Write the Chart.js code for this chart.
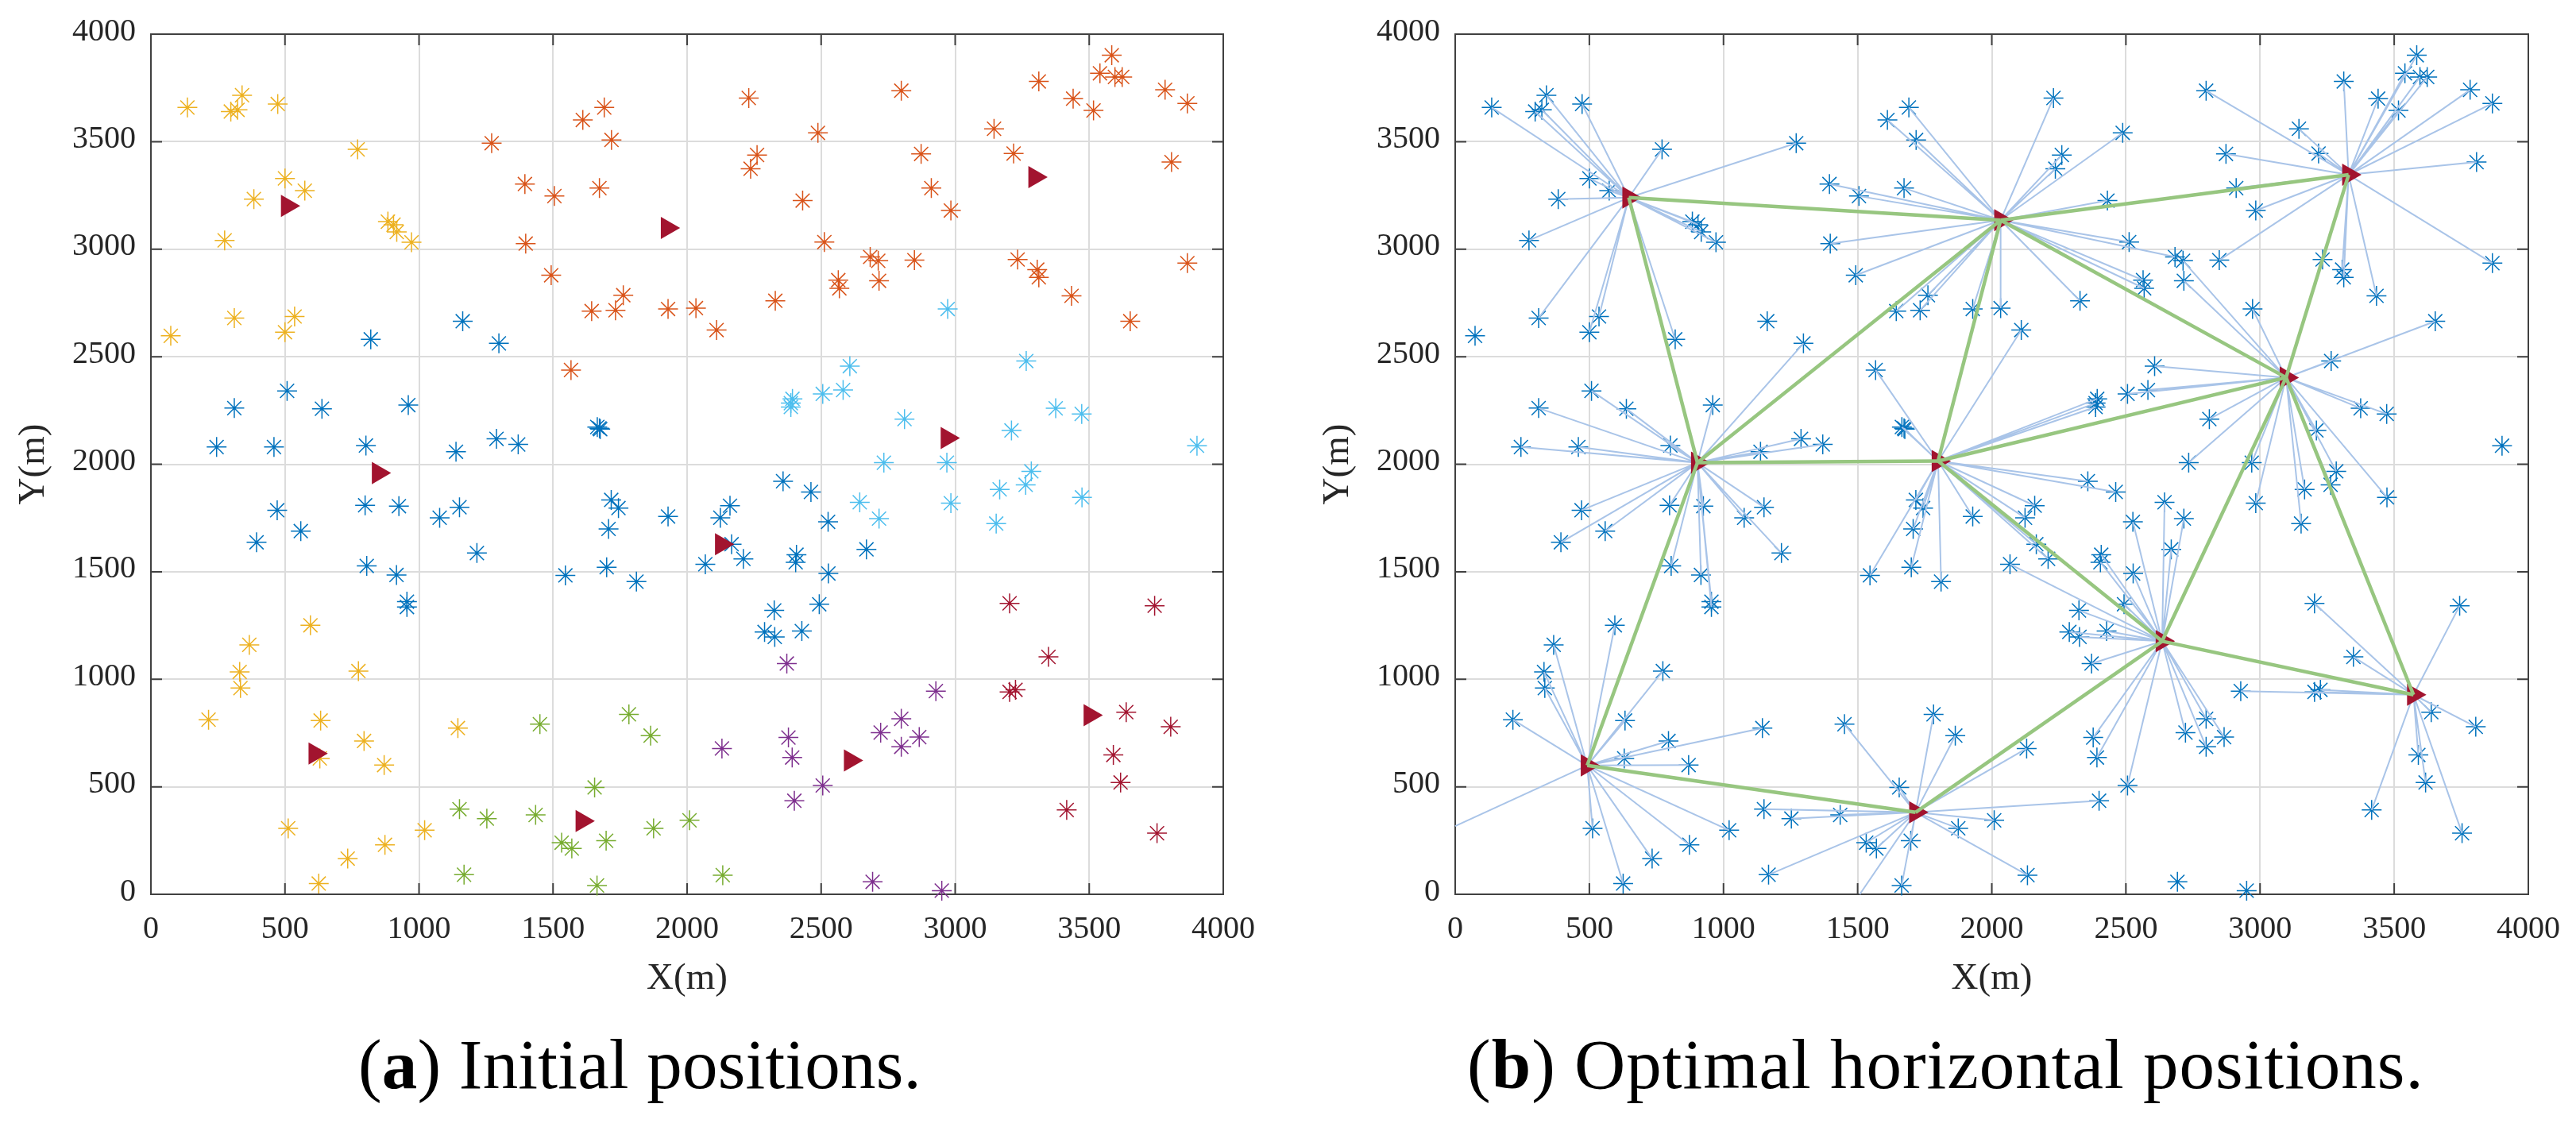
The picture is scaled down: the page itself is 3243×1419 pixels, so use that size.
<!DOCTYPE html>
<html>
<head>
<meta charset="utf-8">
<title>Initial and optimal positions</title>
<script src="https://cdn.jsdelivr.net/npm/chart.js@4"></script>
<style>
  body { margin: 0; background: #fff; }
  canvas { position: absolute; top: 0; }
  #chartA { left: 0; }
  #chartB { left: 1642px; }
  .caption {
    position: absolute; top: 1290px; white-space: nowrap; color: #000;
    font: 89px/100px "Liberation Serif", serif;
  }
  #capA { left: 451px; letter-spacing: 0.2px; }
  #capB { left: 1847px; letter-spacing: 1px; }
</style>
</head>
<body>
<canvas id="chartA" width="1620" height="1290"></canvas>
<canvas id="chartB" width="1601" height="1290"></canvas>
<div class="caption" id="capA">(<b>a</b>) Initial positions.</div>
<div class="caption" id="capB">(<b>b</b>) Optimal horizontal positions.</div>

<script>
const axisTicks = [0, 500, 1000, 1500, 2000, 2500, 3000, 3500, 4000];
const xTitle = "X(m)";
const yTitle = "Y(m)";

// users per cluster, as [x, y]
const yellowUsers = [[136,3659],[298,3640],[323,3648],[340,3716],[473,3675],[771,3464],[500,3329],[574,3272],[384,3233],[884,3128],[905,3114],[917,3080],[972,3032],[275,3041],[311,2680],[536,2687],[500,2614],[74,2597],[595,1251],[367,1160],[331,1034],[334,959],[215,812],[774,1038],[633,808],[795,713],[870,601],[630,632],[512,307],[734,166],[873,230],[1021,298],[1145,773],[626,50]];
const blueUsers = [[1163,2665],[1298,2562],[820,2581],[508,2341],[311,2261],[638,2258],[960,2275],[245,2080],[459,2080],[802,2087],[1138,2058],[1289,2118],[1370,2092],[1673,2167],[1676,2163],[1665,2173],[1717,1834],[1744,1796],[1707,1699],[1700,1521],[1546,1483],[1811,1454],[471,1786],[559,1689],[394,1637],[799,1809],[925,1805],[1077,1751],[1151,1800],[1216,1587],[805,1527],[916,1485],[955,1361],[955,1336],[2358,1921],[2462,1871],[1929,1757],[2160,1807],[2124,1751],[2526,1732],[2166,1628],[2210,1560],[2068,1535],[2408,1579],[2405,1544],[2527,1492],[2669,1604],[2325,1320],[2493,1349],[2289,1220],[2327,1197],[2428,1224]];
const orangeUsers = [[1691,3659],[1611,3601],[1718,3508],[1271,3493],[1395,3303],[1673,3284],[1505,3247],[1398,3026],[1493,2879],[1762,2786],[1644,2712],[1733,2716],[1567,2438],[2230,3703],[2488,3541],[2261,3438],[2237,3374],[2431,3226],[2512,3033],[2683,2964],[2713,2946],[2848,2949],[2564,2856],[2568,2818],[2716,2853],[2329,2760],[1929,2722],[2033,2726],[2110,2624],[2799,3737],[3145,3560],[3218,3445],[2873,3443],[2911,3284],[2984,3180],[3233,2952],[3306,2905],[3312,2869],[3434,2783],[3653,2665],[3866,2935],[3807,3405],[3866,3678],[3783,3741],[3584,3902],[3540,3818],[3596,3801],[3623,3801],[3440,3700],[3312,3780],[3516,3645]];
const skyUsers = [[2972,2722],[3265,2480],[2607,2456],[2506,2327],[2582,2345],[2393,2304],[2387,2284],[2387,2266],[2811,2210],[3375,2260],[3472,2234],[3210,2157],[3902,2086],[2734,2007],[2969,2007],[3284,1967],[3263,1904],[3166,1883],[3473,1846],[2644,1823],[2716,1747],[2984,1819],[3153,1724]];
const redUsers = [[3203,1353],[3744,1342],[3348,1104],[3203,941],[3225,951],[3638,847],[3804,779],[3590,648],[3617,520],[3416,392],[3753,284]];
const purpleUsers = [[2372,1073],[2928,945],[2799,816],[2722,752],[2866,731],[2799,686],[2378,729],[2392,636],[2130,678],[2506,506],[2400,435],[2692,58],[2950,17]];
const greenUsers = [[1451,791],[1783,837],[1864,738],[1655,497],[1151,396],[1253,352],[1435,369],[1532,240],[1570,213],[1698,249],[1168,91],[1664,41],[2009,344],[1875,307],[2133,89]];

// starting relay positions, chart a
const startRelays = [[509,3201],[848,1959],[3297,3335],[1926,3099],[2970,2122],[612,655],[1608,341],[2128,1628],[2609,622],[3503,833]];

// optimal relay positions, chart b
const relayX = [647, 2033, 3330, 3097, 1800, 903, 492, 1716, 2635, 3572];
const relayY = [3240, 3135, 3346, 2403, 2015, 2007, 599, 381, 1177, 928];

// backhaul edges between relays, indexes into relayX / relayY
const relayEdges = [[0,1],[1,2],[0,5],[5,1],[1,4],[1,3],[2,3],[5,4],[4,3],[4,8],[3,8],[3,9],[8,9],[5,6],[6,7],[7,8]];

// users served by each relay, same order as relayX (two ends sit on the axes)
const relayUsers = [
  [[136,3659],[298,3640],[323,3648],[340,3716],[473,3675],[771,3464],[500,3329],[574,3272],[384,3233],[884,3128],[905,3114],[917,3080],[972,3032],[275,3041],[311,2680],[536,2687],[500,2614],[1271,3493],[820,2581]],
  [[1691,3659],[1611,3601],[1718,3508],[1395,3303],[1673,3284],[1505,3247],[1398,3026],[1493,2879],[1762,2786],[1644,2712],[1733,2716],[2230,3703],[2488,3541],[2261,3438],[2237,3374],[2431,3226],[2512,3033],[2683,2964],[2564,2856],[2568,2818],[2329,2760],[1929,2722],[2033,2726]],
  [[2799,3737],[3145,3560],[3218,3445],[2873,3443],[2911,3284],[2984,3180],[2848,2949],[3233,2952],[3306,2905],[3312,2869],[3434,2783],[3866,2935],[3807,3405],[3866,3678],[3783,3741],[3584,3902],[3540,3818],[3596,3801],[3623,3801],[3440,3700],[3312,3780],[3516,3645]],
  [[2713,2946],[2716,2853],[2972,2722],[3653,2665],[3265,2480],[2607,2456],[2582,2345],[2506,2327],[3375,2260],[3472,2234],[2811,2210],[2734,2007],[2969,2007],[3210,2157],[3284,1967],[3263,1904],[3166,1883],[3473,1846],[2984,1819],[3153,1724]],
  [[2393,2304],[2387,2284],[2387,2266],[2358,1921],[2462,1871],[2160,1807],[2124,1751],[1929,1757],[1811,1454],[2166,1628],[2210,1560],[1717,1834],[1744,1796],[1707,1699],[1700,1521],[1546,1483],[1567,2438],[1673,2167],[1676,2163],[1665,2173],[2110,2624]],
  [[508,2341],[311,2261],[638,2258],[960,2275],[245,2080],[459,2080],[802,2087],[1138,2058],[1289,2118],[1370,2092],[1298,2562],[471,1786],[559,1689],[394,1637],[799,1809],[925,1805],[1077,1751],[1151,1800],[1216,1587],[805,1527],[916,1485],[955,1361],[955,1336]],
  [[595,1251],[367,1160],[331,1034],[334,959],[215,812],[774,1038],[633,808],[795,713],[870,601],[630,632],[512,307],[734,166],[873,230],[1021,298],[1145,773],[626,50],[0,317]],
  [[1451,791],[1783,837],[1864,738],[1655,497],[1151,396],[1253,352],[1435,369],[1532,240],[1570,213],[1698,249],[1168,91],[1664,41],[2009,344],[1875,307],[2133,89],[2130,678],[2400,435],[1508,0]],
  [[2068,1535],[2408,1579],[2405,1544],[2527,1492],[2526,1732],[2644,1823],[2716,1747],[2669,1604],[2325,1320],[2493,1349],[2289,1220],[2327,1197],[2428,1224],[2372,1073],[2378,729],[2392,636],[2506,506],[2722,752],[2799,816],[2799,686],[2866,731]],
  [[2928,945],[3203,941],[3225,951],[3203,1353],[3744,1342],[3348,1104],[3638,847],[3804,779],[3590,648],[3617,520],[3416,392],[3753,284]]
];

const toPoints = list => list.map(p => ({ x: p[0], y: p[1] }));

function starSet(list, color) {
  return {
    type: "scatter", data: toPoints(list), order: 3, clip: false,
    pointStyle: "star", pointRadius: 12.5, pointBorderWidth: 1.5,
    pointBorderColor: color, pointBackgroundColor: color
  };
}

function relaySet(points) {
  return {
    type: "scatter", data: points, order: 1, clip: false,
    pointStyle: "triangle", pointRotation: 90, pointRadius: 16.2, pointBorderWidth: 0,
    pointBackgroundColor: "#A2142F", pointBorderColor: "#A2142F"
  };
}

function lineSet(points, color, width, order) {
  return {
    type: "line", data: points, order: order, clip: false,
    borderColor: color, borderWidth: width, pointRadius: 0, fill: false, tension: 0
  };
}

// MATLAB style box: frame plus inward ticks on all four sides
const boxTicks = {
  id: "boxTicks",
  beforeDatasetsDraw(chart) {
    const { ctx, chartArea: a, scales } = chart;
    const len = 14;
    ctx.save();
    ctx.strokeStyle = "#404040";
    ctx.lineWidth = 2;
    ctx.strokeRect(a.left, a.top, a.right - a.left, a.bottom - a.top);
    ctx.beginPath();
    axisTicks.forEach(v => {
      const px = scales.x.getPixelForValue(v);
      const py = scales.y.getPixelForValue(v);
      ctx.moveTo(px, a.top); ctx.lineTo(px, a.top + len);
      ctx.moveTo(px, a.bottom); ctx.lineTo(px, a.bottom - len);
      ctx.moveTo(a.left, py); ctx.lineTo(a.left + len, py);
      ctx.moveTo(a.right, py); ctx.lineTo(a.right - len, py);
    });
    ctx.stroke();
    ctx.restore();
  }
};

function axis(titleText, titlePad, extra) {
  return Object.assign({
    type: "linear", min: 0, max: 4000,
    afterBuildTicks: s => { s.ticks = axisTicks.map(v => ({ value: v })); },
    grid: { color: "#dcdcdc", lineWidth: 2, drawTicks: false },
    border: { display: false },
    title: { display: true, text: titleText, color: "#262626", padding: titlePad,
             font: { family: "Liberation Serif", size: 47 } }
  }, extra);
}

function makeChart(id, rightPad, datasets) {
  new Chart(document.getElementById(id), {
    type: "scatter",
    data: { datasets: datasets },
    plugins: [boxTicks],
    options: {
      responsive: false,
      animation: false,
      events: [],
      layout: { padding: { top: 41, right: rightPad, left: 0, bottom: 0 } },
      plugins: { legend: { display: false }, tooltip: { enabled: false } },
      scales: {
        x: axis(xTitle, { top: 4, bottom: 29 }, {
          afterFit: s => { s.height = 164; },
          ticks: { padding: 20, maxRotation: 0, autoSkip: false, color: "#262626", callback: v => String(v),
                   font: { family: "Liberation Serif", size: 40 } }
        }),
        y: axis(yTitle, { top: 14, bottom: 4 }, {
          afterFit: s => { s.width = 190; },
          ticks: { padding: 19, autoSkip: false, color: "#262626", labelOffset: -3, callback: v => String(v),
                   font: { family: "Liberation Serif", size: 40 } }
        })
      }
    }
  });
}

Chart.defaults.font.family = "Liberation Serif";

const allUsers = [].concat(yellowUsers, blueUsers, orangeUsers, skyUsers, redUsers, purpleUsers, greenUsers);
const relayPoints = relayX.map((x, i) => ({ x: x, y: relayY[i] }));

makeChart("chartA", 80, [
  starSet(yellowUsers, "#EDB120"),
  starSet(blueUsers, "#0072BD"),
  starSet(orangeUsers, "#D95319"),
  starSet(skyUsers, "#4DBEEE"),
  starSet(redUsers, "#A2142F"),
  starSet(purpleUsers, "#7E2F8E"),
  starSet(greenUsers, "#77AC30"),
  relaySet(toPoints(startRelays))
]);

const fans = relayUsers.map((users, i) => {
  const pts = [];
  toPoints(users).forEach(u => { pts.push(relayPoints[i], u); });
  pts.push(relayPoints[i]);
  return lineSet(pts, "#A9C4E8", 2, 2);
});
const edges = relayEdges.map(e => lineSet([relayPoints[e[0]], relayPoints[e[1]]], "#97C680", 4.5, 0));

makeChart("chartB", 60, [starSet(allUsers, "#0072BD"), relaySet(relayPoints)].concat(fans, edges));
</script>
</body>
</html>
